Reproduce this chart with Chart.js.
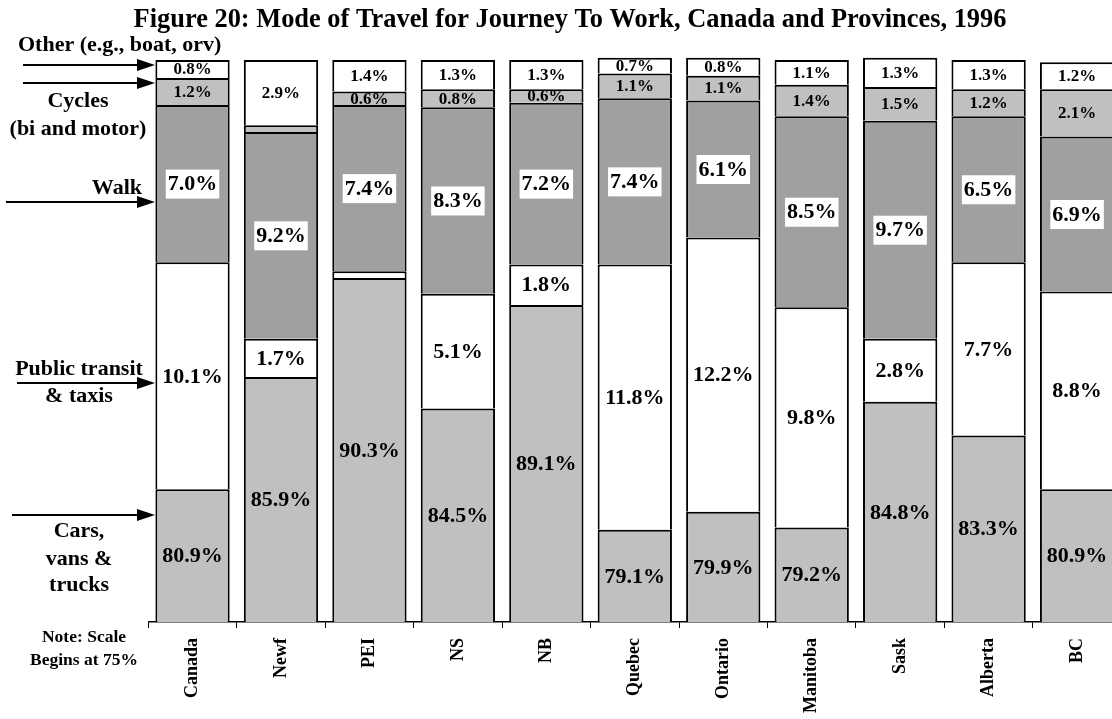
<!DOCTYPE html>
<html>
<head>
<meta charset="utf-8">
<script src="https://cdn.jsdelivr.net/npm/chart.js@4/dist/chart.umd.min.js"></script>
<style>
  html, body { margin: 0; padding: 0; overflow: hidden; background: #fff; }
  canvas { display: block; }
</style>
</head>
<body>
<canvas id="c" width="1130" height="719"></canvas>
<script>
// ---- data ----
const categories = ["Canada", "Newf", "PEI", "NS", "NB", "Quebec", "Ontario", "Manitoba", "Sask", "Alberta", "BC"];
const cars    = [80.9, 85.9, 90.3, 84.5, 89.1, 79.1, 79.9, 79.2, 84.8, 83.3, 80.9];
const transit = [10.1, 1.7, 0.3, 5.1, 1.8, 11.8, 12.2, 9.8, 2.8, 7.7, 8.8];
const walk    = [7.0, 9.2, 7.4, 8.3, 7.2, 7.4, 6.1, 8.5, 9.7, 6.5, 6.9];
const cycles  = [1.2, 0.3, 0.6, 0.8, 0.6, 1.1, 1.1, 1.4, 1.5, 1.2, 2.1];
const other   = [0.8, 2.9, 1.4, 1.3, 1.3, 0.7, 0.8, 1.1, 1.3, 1.3, 1.2];
const seriesNames = ["Cars, vans & trucks", "Public transit & taxis", "Walk", "Cycles (bi and motor)", "Other (e.g., boat, orv)"];
const titleText = "Figure 20: Mode of Travel for Journey To Work, Canada and Provinces, 1996";
const noteLines = ["Note: Scale", "Begins at 75%"];
const scaleMin = 75;
const scaleMax = 101;

// ---- styles ----
const SERIF = '"Liberation Serif", "Times New Roman", serif';
const fills = ["#c0c0c0", "#ffffff", "#a0a0a0", "#c0c0c0", "#ffffff"];
const labelFont = [22, 22, 22, 17, 17];
const labelBox = [false, false, true, false, false];

const allSeries = [cars, transit, walk, cycles, other];
const datasets = allSeries.map((d, i) => ({
  label: seriesNames[i],
  data: d,
  backgroundColor: fills[i],
  borderColor: "#000",
  borderWidth: { top: 2, bottom: 0, left: 2, right: 2 },
  borderSkipped: false,
  clip: 0,
  barPercentage: 0.84,
  categoryPercentage: 1.0
}));

const labelPlugin = {
  id: "segLabels",
  afterDatasetsDraw(chart) {
    const ctx = chart.ctx;
    ctx.save();
    chart.data.datasets.forEach((ds, di) => {
      const meta = chart.getDatasetMeta(di);
      meta.data.forEach((bar, i) => {
        const v = ds.data[i];
        if (v < 0.5) return;
        const txt = v.toFixed(1) + "%";
        const top = bar.y;
        const bottom = Math.min(bar.base, chart.chartArea.bottom);
        const cy = (top + bottom) / 2;
        ctx.font = "bold " + labelFont[di] + "px " + SERIF;
        ctx.textAlign = "center";
        ctx.textBaseline = "middle";
        const w = ctx.measureText(txt).width;
        if (labelBox[di]) {
          ctx.fillStyle = "#fff";
          ctx.fillRect(bar.x - w / 2 - 2, cy - 14, w + 4, 29);
        }
        ctx.fillStyle = "#000";
        ctx.fillText(txt, bar.x, cy + 1);
      });
    });
    ctx.restore();
  }
};

function arrow(ctx, x1, x2, y) {
  ctx.beginPath();
  ctx.moveTo(x1, y);
  ctx.lineTo(x2 - 16, y);
  ctx.strokeStyle = "#000";
  ctx.lineWidth = 2;
  ctx.stroke();
  ctx.beginPath();
  ctx.moveTo(x2, y);
  ctx.lineTo(x2 - 18, y - 6);
  ctx.lineTo(x2 - 18, y + 6);
  ctx.closePath();
  ctx.fillStyle = "#000";
  ctx.fill();
}

const annotPlugin = {
  id: "annot",
  afterDraw(chart) {
    const ctx = chart.ctx;
    ctx.save();
    ctx.fillStyle = "#000";
    // title
    ctx.font = "bold 26.4px " + SERIF;
    ctx.textAlign = "center";
    ctx.textBaseline = "alphabetic";
    ctx.fillText(titleText, 570, 27);
    ctx.textBaseline = "middle";
    // left side annotations
    ctx.font = "bold 22px " + SERIF;
    ctx.textAlign = "left";
    ctx.fillText("Other (e.g., boat, orv)", 18, 45);
    arrow(ctx, 23, 155, 65);
    arrow(ctx, 23, 155, 83);
    ctx.textAlign = "center";
    ctx.fillText("Cycles", 78, 101);
    ctx.fillText("(bi and motor)", 78, 129);
    ctx.textAlign = "right";
    ctx.fillText("Walk", 142, 188);
    arrow(ctx, 6, 155, 202);
    ctx.textAlign = "center";
    ctx.fillText("Public transit", 79, 369);
    arrow(ctx, 17, 155, 383);
    ctx.fillText("& taxis", 79, 396);
    arrow(ctx, 12, 155, 515);
    ctx.fillText("Cars,", 79, 531);
    ctx.fillText("vans &", 79, 559);
    ctx.fillText("trucks", 79, 585);
    ctx.font = "bold 17.5px " + SERIF;
    ctx.fillText(noteLines[0], 84, 637);
    ctx.fillText(noteLines[1], 84, 660);
    ctx.restore();
  }
};

new Chart(document.getElementById("c"), {
  type: "bar",
  data: { labels: categories, datasets },
  plugins: [labelPlugin, annotPlugin],
  options: {
    responsive: false,
    animation: false,
    layout: { padding: { left: 148.3, right: 8.7, top: 37.5, bottom: 0 } },
    plugins: { legend: { display: false }, tooltip: { enabled: false }, title: { display: false } },
    scales: {
      y: { stacked: true, display: false, min: scaleMin, max: scaleMax },
      x: {
        stacked: true,
        grid: { display: true, drawOnChartArea: false, drawTicks: true, tickLength: 6, color: "#000", lineWidth: 1, offset: true },
        border: { display: true, color: "#000", width: 1.5 },
        ticks: {
          minRotation: 90, maxRotation: 90, autoSkip: false, padding: 10,
          color: "#000", font: { family: SERIF, size: 18, weight: "bold" }
        },
        afterFit(scale) { scale.height = 97; }
      }
    }
  }
});
</script>
</body>
</html>
